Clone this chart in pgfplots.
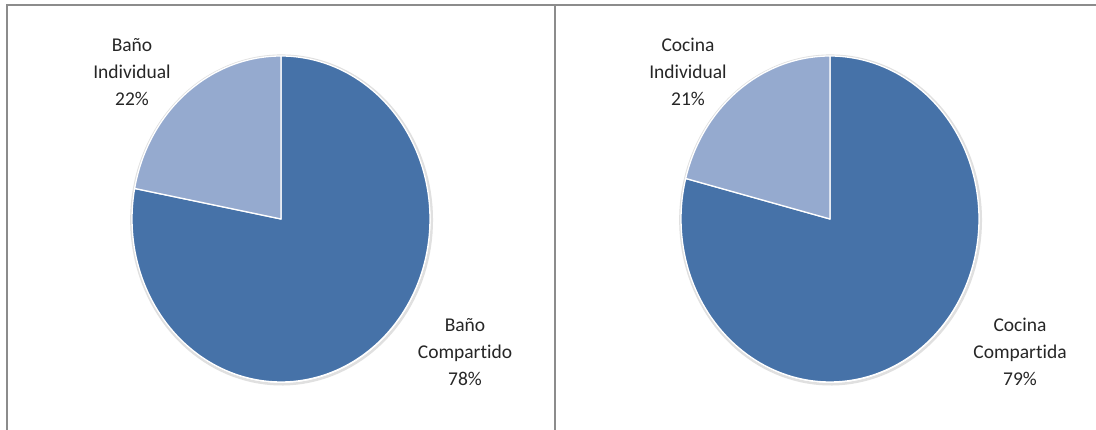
\documentclass[border=0pt]{standalone}
\usepackage{pgfplots}
\pgfplotsset{compat=1.18}
\usepackage{fontspec}
\setmainfont{Carlito}[Ligatures={NoCommon}]
\definecolor{darkslice}{HTML}{4672A8}
\definecolor{lightslice}{HTML}{95AACF}
\definecolor{frame}{HTML}{8C8C8C}
\definecolor{txt}{HTML}{262626}
% data (percent)
\def\BanoComp{78}
\def\BanoInd{22}
\def\CocComp{79}
\def\CocInd{21}
\pgfplotsset{
  pieaxis/.style={
    hide axis, scale only axis, width=298pt, height=326pt,
    xmin=-1, xmax=1, ymin=-1, ymax=1, clip=false, anchor=center},
  slice/.style={draw=white, line width=1.3pt, samples=150, line join=round}
}
\begin{document}
\begin{tikzpicture}
\useasboundingbox (0pt,0pt) rectangle (1096pt,430pt);
\fill[white] (0pt,0pt) rectangle (1096pt,430pt);
% frames
\draw[frame, line width=2pt] (7pt,0pt) -- (7pt,425pt) -- (1096pt,425pt);
\draw[frame, line width=2pt] (555pt,425pt) -- (555pt,0pt);
% left pie
\begin{axis}[pieaxis, at={(281pt,211pt)}]
\addplot[draw=black!12, line width=2.5pt, domain=0:360, samples=150] ({1.008*cos(x)+0.004},{1.008*sin(x)-0.006});
\addplot[slice, fill=darkslice, domain={90-\BanoComp*3.6}:90] ({cos(x)},{sin(x)}) -- (axis cs:0,0) -- cycle;
\addplot[slice, fill=lightslice, domain=90:{90+\BanoInd*3.6}] ({cos(x)},{sin(x)}) -- (axis cs:0,0) -- cycle;
\end{axis}
% right pie
\begin{axis}[pieaxis, at={(830pt,211pt)}]
\addplot[draw=black!12, line width=2.5pt, domain=0:360, samples=150] ({1.008*cos(x)+0.004},{1.008*sin(x)-0.006});
\addplot[slice, fill=darkslice, domain={90-\CocComp*3.6}:90] ({cos(x)},{sin(x)}) -- (axis cs:0,0) -- cycle;
\addplot[slice, fill=lightslice, domain=90:{90+\CocInd*3.6}] ({cos(x)},{sin(x)}) -- (axis cs:0,0) -- cycle;
\end{axis}
% labels
\tikzset{lab/.style={align=center, text=txt, font={\fontsize{19.5}{27}\selectfont}, inner sep=0pt}}
\node[lab] at (132pt,358pt) {Baño\\Individual\\22\%};
\node[lab] at (465pt,78pt) {Baño\\Compartido\\78\%};
\node[lab] at (688pt,358pt) {Cocina\\Individual\\21\%};
\node[lab] at (1020pt,78pt) {Cocina\\Compartida\\79\%};
\end{tikzpicture}
\end{document}
